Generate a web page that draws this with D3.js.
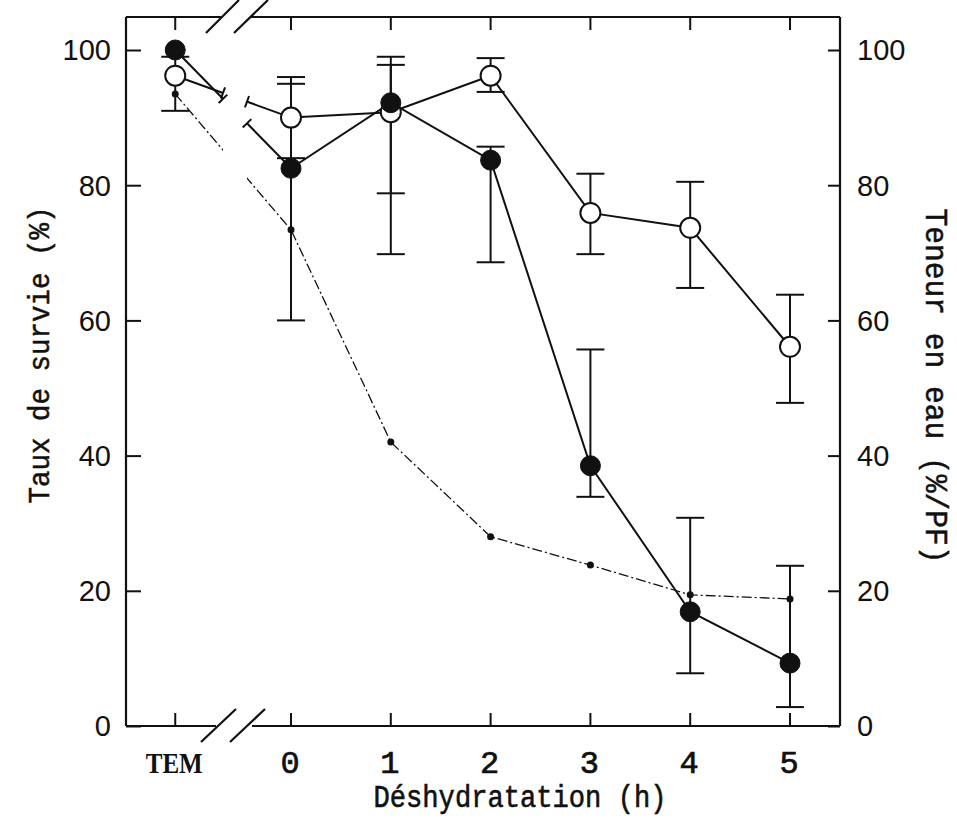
<!DOCTYPE html>
<html><head><meta charset="utf-8">
<script src="https://cdn.jsdelivr.net/npm/d3@7"></script>
<style>html,body{margin:0;padding:0;background:#fff}</style>
</head><body>
<svg id="c" width="957" height="829"></svg>
<script>
// ---------- data ----------
const categories = ["TEM", "0", "1", "2", "3", "4", "5"];
const hours      = [null, 0, 1, 2, 3, 4, 5];
// open circles
const openVals   = [96.2, 90.0, 90.8, 96.2, 75.9, 73.7, 56.1];
const openLow    = [91.0, 84.0, 78.8, 93.8, 69.8, 64.8, 47.8];
const openHigh   = [99.0, 96.0, 99.0, 98.8, 81.7, 80.5, 63.8];
// filled circles
const filledVals = [100, 82.5, 92.2, 83.7, 38.5, 16.9, 9.3];
const filledLow  = [null, 60.0, 69.8, 68.6, 33.9, 7.8, 2.8];
const filledHigh = [null, 95.0, 97.8, 85.7, 55.7, 30.8, 23.7];
// small dots (thin dashed line)
const dotVals    = [93.5, 73.4, 42.0, 28.0, 23.8, 19.4, 18.8];
const yTicks     = [0, 20, 40, 60, 80, 100];

// ---------- layout ----------
const L = 126, R = 840, T = 17, B = 726;
const TEM_POS = -1.16;
const BRK_A = 223, BRK_B = 247;
const svg = d3.select("#c");
const x = d3.scaleLinear().domain([0, 5]).range([291, 790]);
const y = d3.scaleLinear().domain([0, 100]).range([B, 50]);
const xOf = i => x(hours[i] === null ? TEM_POS : hours[i]);

// clip excluding break band
const defs = svg.append("defs");
const cp = defs.append("clipPath").attr("id", "brk");
cp.append("rect").attr("x", 0).attr("y", 0).attr("width", BRK_A).attr("height", 829);
cp.append("rect").attr("x", BRK_B).attr("y", 0).attr("width", 710).attr("height", 829);

const ink = "#111";
const mono = "Liberation Mono, Courier New, monospace";

// frame
const frame = svg.append("g").attr("stroke", ink).attr("stroke-width", 2.2).attr("fill", "none");
frame.append("line").attr("x1", L).attr("y1", T).attr("x2", L).attr("y2", B);
frame.append("line").attr("x1", R).attr("y1", T).attr("x2", R).attr("y2", B);
frame.append("line").attr("x1", L).attr("y1", T).attr("x2", 221).attr("y2", T);
frame.append("line").attr("x1", 250).attr("y1", T).attr("x2", R).attr("y2", T);
frame.append("line").attr("x1", L).attr("y1", B).attr("x2", 216).attr("y2", B);
frame.append("line").attr("x1", 252).attr("y1", B).attr("x2", R).attr("y2", B);
// break slashes
[[206, 33, 239, 0], [234, 33, 268, 0], [201, 742, 236, 709], [230, 742, 265, 709]].forEach(s =>
  frame.append("line").attr("x1", s[0]).attr("y1", s[1]).attr("x2", s[2]).attr("y2", s[3]));

// y axes (ticks inward)
const yl = svg.append("g").attr("transform", `translate(${L},0)`)
  .call(d3.axisRight(y).tickValues(yTicks).tickSize(15).tickFormat(""));
const yr = svg.append("g").attr("transform", `translate(${R},0)`)
  .call(d3.axisLeft(y).tickValues(yTicks).tickSize(12).tickFormat(""));
[yl, yr].forEach(g => { g.select(".domain").remove(); g.selectAll("line").attr("stroke", ink).attr("stroke-width", 2); });

// x ticks bottom and top (inward)
categories.forEach((c, i) => {
  frame.append("line").attr("x1", xOf(i)).attr("x2", xOf(i)).attr("y1", B).attr("y2", B - 13).attr("stroke-width", 2);
  frame.append("line").attr("x1", xOf(i)).attr("x2", xOf(i)).attr("y1", T).attr("y2", T + 13).attr("stroke-width", 2);
});

// tick labels
yTicks.forEach(v => {
  svg.append("text").attr("x", 111).attr("y", y(v)).attr("dy", "0.36em").attr("text-anchor", "end")
    .attr("font-family", "Liberation Sans, Arial, sans-serif").attr("font-size", 29).attr("fill", ink).text(v);
  svg.append("text").attr("x", 857).attr("y", y(v)).attr("dy", "0.36em").attr("text-anchor", "start")
    .attr("font-family", "Liberation Sans, Arial, sans-serif").attr("font-size", 29).attr("fill", ink).text(v);
});
categories.forEach((c, i) => {
  const t = svg.append("text").attr("x", xOf(i) - 1).attr("y", 773).attr("text-anchor", "middle")
    .attr("fill", ink).text(c);
  if (i === 0) t.attr("font-family", "Liberation Serif, Times New Roman, serif").attr("font-size", 29)
    .attr("font-weight", "bold").attr("textLength", 57).attr("lengthAdjust", "spacingAndGlyphs");
  else t.attr("font-family", mono).attr("font-size", 32).attr("stroke", ink).attr("stroke-width", 0.7);
});

// axis titles
svg.append("text").attr("x", 520).attr("y", 807).attr("text-anchor", "middle")
  .attr("font-family", mono).attr("font-size", 31).attr("fill", ink)
  .attr("stroke", ink).attr("stroke-width", 0.6)
  .attr("textLength", 293).attr("lengthAdjust", "spacingAndGlyphs")
  .text("Déshydratation (h)");
svg.append("text").attr("transform", "translate(49,355) rotate(-90)").attr("text-anchor", "middle")
  .attr("font-family", mono).attr("font-size", 30).attr("fill", ink)
  .attr("stroke", ink).attr("stroke-width", 0.5)
  .attr("textLength", 297).attr("lengthAdjust", "spacingAndGlyphs")
  .text("Taux de survie (%)");
svg.append("text").attr("transform", "translate(926,386) rotate(90)").attr("text-anchor", "middle")
  .attr("font-family", mono).attr("font-size", 31).attr("fill", ink)
  .attr("stroke", ink).attr("stroke-width", 0.5)
  .attr("textLength", 355).attr("lengthAdjust", "spacingAndGlyphs")
  .text("Teneur en eau (%/PF)");

// error bars
const eb = svg.append("g").attr("stroke", ink).attr("stroke-width", 2);
function errBars(low, high) {
  low.forEach((lo, i) => {
    const hi = high[i];
    if (lo === null || hi === null) return;
    const cx = xOf(i);
    eb.append("line").attr("x1", cx).attr("x2", cx).attr("y1", y(lo)).attr("y2", y(hi));
    eb.append("line").attr("x1", cx - 14).attr("x2", cx + 14).attr("y1", y(lo)).attr("y2", y(lo));
    eb.append("line").attr("x1", cx - 14).attr("x2", cx + 14).attr("y1", y(hi)).attr("y2", y(hi));
  });
}
errBars(openLow, openHigh);
errBars(filledLow, filledHigh);

// lines
const lineGen = vals => d3.line().x((d, i) => xOf(i)).y(d => y(d))(vals);
const lines = svg.append("g").attr("clip-path", "url(#brk)").attr("fill", "none").attr("stroke", ink);
lines.append("path").attr("d", lineGen(dotVals)).attr("stroke-width", 1.3).attr("stroke-dasharray", "10,3,2,3");
lines.append("path").attr("d", lineGen(openVals)).attr("stroke-width", 2);
lines.append("path").attr("d", lineGen(filledVals)).attr("stroke-width", 2);

// small perpendicular caps where the solid lines are broken
const caps = svg.append("g").attr("stroke", ink).attr("stroke-width", 2);
[openVals, filledVals].forEach(vals => {
  const x0 = xOf(0), x1 = xOf(1), y0 = y(vals[0]), y1 = y(vals[1]);
  const dx = x1 - x0, dy = y1 - y0, len = Math.hypot(dx, dy);
  const nx = -dy / len * 6, ny = dx / len * 6;
  [BRK_A, BRK_B].forEach(bx => {
    const t = (bx - x0) / dx, px = bx, py = y0 + t * dy;
    caps.append("line").attr("x1", px - nx).attr("y1", py - ny).attr("x2", px + nx).attr("y2", py + ny);
  });
});

// markers
svg.append("g").selectAll("circle").data(dotVals).join("circle")
  .attr("cx", (d, i) => xOf(i)).attr("cy", d => y(d)).attr("r", 3.5).attr("fill", ink);
svg.append("g").selectAll("circle").data(openVals).join("circle")
  .attr("cx", (d, i) => xOf(i)).attr("cy", d => y(d)).attr("r", 10)
  .attr("fill", "#fff").attr("stroke", ink).attr("stroke-width", 2);
svg.append("g").selectAll("circle").data(filledVals).join("circle")
  .attr("cx", (d, i) => xOf(i)).attr("cy", d => y(d)).attr("r", 10)
  .attr("fill", ink).attr("stroke", ink).attr("stroke-width", 1);
</script>
</body></html>
